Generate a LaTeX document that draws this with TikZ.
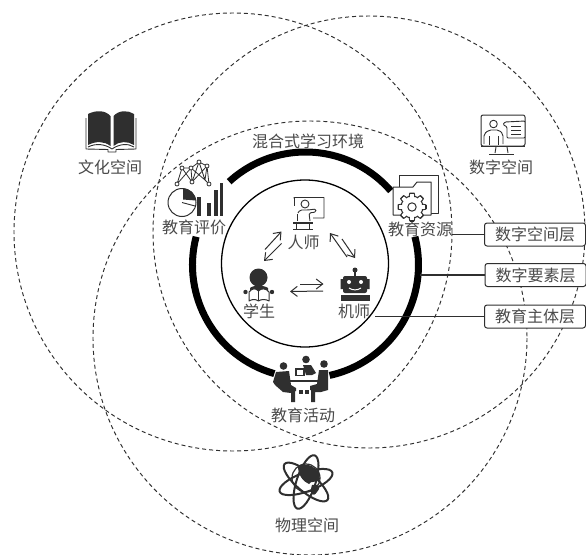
\documentclass[tikz,border=0pt]{standalone}
\usepackage{fontspec}
\setmainfont{Noto Sans CJK SC}
\usetikzlibrary{arrows.meta,calc}
\definecolor{ink}{HTML}{2F2F2F}
\definecolor{txt}{HTML}{4A4A4A}
\tikzset{
  space/.style={draw=ink,line width=0.95pt,dash pattern=on 4pt off 3pt},
  ringarc/.style={draw=black,line width=7pt},
  inner/.style={draw=black,line width=1.3pt},
  lbl/.style={text=txt,inner sep=0pt,font=\fontsize{16}{18}\selectfont},
  layerbox/.style={draw=ink,line width=1pt,rounded corners=2.5pt,fill=white,minimum width=101pt,minimum height=23pt,inner sep=0pt,text=txt,font=\fontsize{16}{18}\selectfont},
  leader/.style={draw=ink,line width=1.1pt},
  ico/.style={draw=ink,line width=0.9pt,line join=round},
  icof/.style={fill=ink,draw=none},
  rel/.style={draw=ink,line width=1pt,-{Straight Barb[length=6.5pt,width=10pt]}},
}
\begin{document}
\begin{tikzpicture}[x=1pt,y=-1pt]
\useasboundingbox[fill=white] (0,0) rectangle (586,554);
% outer spaces
\draw[space] (233,232) circle[radius=219];
\draw[space] (369,232) circle[radius=216];
\draw[space] (310,338) circle[radius=217];
% ring and core
\coordinate (R) at (305.5,265);
\draw[ringarc] ([shift={(-132.5:113)}]R) arc[start angle=-132.5,end angle=-41,radius=113];
\draw[ringarc] ([shift={(-14.5:113)}]R) arc[start angle=-14.5,end angle=77.7,radius=113];
\draw[ringarc] ([shift={(194.5:113)}]R) arc[start angle=194.5,end angle=106,radius=113];
\draw[inner] (305,263.5) circle[radius=83.5];
% labels
\node[lbl] (title) at (308,141) {混合式学习环境};
\node[lbl] (wenhua) at (110,167) {文化空间};
\node[lbl] (shuzi) at (501,167) {数字空间};
\node[lbl] (pingjia) at (194,227) {教育评价};
\node[lbl] (ziyuan) at (420,229) {教育资源};
\node[lbl] (renshi) at (303.5,242) {人师};
\node[lbl] (xuesheng) at (259,311) {学生};
\node[lbl] (jishi) at (354,311) {机师};
\node[lbl] (huodong) at (303,415) {教育活动};
\node[lbl] (wuli) at (307,525) {物理空间};
% layer boxes
\node[layerbox] (b1) at (535,234.5) {数字空间层};
\node[layerbox] (b2) at (535.5,275) {数字要素层};
\node[layerbox] (b3) at (535,316.5) {教育主体层};
\coordinate (e2) at (420,275);
\coordinate (e3) at (375,316.5);
\draw[leader] (ziyuan.east |- b1.west) -- (b1.west);
\draw[leader] (e2) -- (b2.west);
\draw[leader] (e3) -- (b3.west);
% relation arrows
\coordinate (a1) at (265,249.5); \coordinate (a2) at (281.5,231.5);
\coordinate (a3) at (281.5,243.5); \coordinate (a4) at (264,261);
\coordinate (a5) at (342,239); \coordinate (a6) at (355,258);
\coordinate (a7) at (347,257); \coordinate (a8) at (330,233);
\coordinate (a9) at (300,284); \coordinate (a10) at (323.5,284);
\coordinate (a11) at (323,291); \coordinate (a12) at (290,291.5);
\draw[rel] (a1) -- (a2);
\draw[rel] (a3) -- (a4);
\draw[rel] (a5) -- (a6);
\draw[rel] (a7) -- (a8);
\draw[rel] (a9) -- (a10);
\draw[rel] (a11) -- (a12);
% book icon
\fill[ink] (88,114) .. controls (96,110) and (105,110) .. (110.5,116) -- (110.5,146) .. controls (104,141) and (96,141) .. (88,145) -- cycle;
\fill[ink] (113.5,116) .. controls (119,110) and (128,110) .. (134,114) -- (134,145) .. controls (128,141) and (119,141) .. (113.5,146) -- cycle;
\draw[ico] (86,118) -- (86,149) -- (108,149.5) -- (108,152) -- (116,152) -- (116,149.5) -- (136,149) -- (136,118);
\draw[ico] (88,147) .. controls (96,143) and (105,144) .. (112,149) .. controls (119,144) and (128,143) .. (134,147);
% evaluation icon
\coordinate (n1) at (177,184); \coordinate (n2) at (182,168); \coordinate (n3) at (192,182);
\coordinate (n4) at (191,168); \coordinate (n5) at (199,162); \coordinate (n6) at (205,180);
\coordinate (n7) at (207,166); \coordinate (n8) at (209,184);
\draw[ico,line width=0.8pt] (n1)--(n2)--(n3)--(n4)--(n1) (n2)--(n4)--(n5)--(n3) (n5)--(n6)--(n7)--(n5) (n4)--(n6) (n3)--(n7) (n7)--(n8) (n6)--(n8);
\foreach \n in {n1,n2,n3,n4,n5,n7,n8}{\draw[ico,line width=0.8pt,fill=white] (\n) circle[radius=2];}
\draw[ico,line width=1pt] (182,202.5) circle[radius=14];
\fill[ink] (183,199.5) -- (183,188.5) .. controls (190,188.5) and (195,193) .. (196,200.5) -- cycle;
\draw[ico] (182,202.5) -- (195,206);
\fill[ink] (197,197) rectangle (200.5,216);
\fill[ink] (207,203) rectangle (210.5,216);
\fill[ink] (214,190) rectangle (217.5,216);
\fill[ink] (219.5,183) rectangle (223,216);
% resource icon
\draw[ico,line width=1pt] (399,190) -- (399,175) -- (438,175) -- (438,213) -- (431,213);
\draw[ico,line width=1pt,fill=white] (393,215) -- (393,187) -- (413,187) -- (417,182) -- (431,182) -- (431,215) -- cycle;
\foreach \a in {0,45,...,315}{\fill[ink,rotate around={\a:(412,207)}] (410,192.5) rectangle (414,197);}
\draw[ico,line width=1pt,fill=white] (412,207) circle[radius=11];
\foreach \a in {0,45,...,315}{\fill[white,rotate around={\a:(412,207)}] (410.2,193.8) rectangle (413.8,198);}
\foreach \a in {0,45,...,315}{\draw[ico,line width=0.9pt,rotate around={\a:(412,207)}] (409,197) -- (409.8,193) -- (414.2,193) -- (415,197);}
\draw[ico,line width=1pt] (412,207) circle[radius=4.2];
% digital icon
\draw[ico,line width=1pt,rounded corners=2pt] (481,146) -- (481,115) -- (525,115) -- (525,146) -- cycle;
\draw[ico] (481,146) -- (525,146);
\draw[ico] (496,147) -- (495,153) (507,147) -- (508,153);
\draw[ico] (489,154) -- (514,154);
\draw[ico] (493.5,124) circle[radius=3.8];
\draw[ico,rounded corners=2pt] (484,144) -- (484,134) -- (489,130) -- (499,130) -- (503,134) -- (503,144);
\draw[ico] (489,136) -- (489,145) (498,136) -- (498,145);
\draw[ico,fill=white,rounded corners=1pt] (505,122) -- (525,121) -- (525,138) -- (507,138) -- (507,127) -- (503,124.5) -- cycle;
\draw[ico] (511,126) -- (521,126) (511,130) -- (521,130) (511,134) -- (521,134);
% teacher icon
\draw[ico] (294.5,199) -- (294,197.5) -- (324,197.5) -- (324,218) -- (313,218);
\draw[ico] (294,197.5) -- (294,206);
\draw[ico] (305,204) circle[radius=4];
\draw[ico,rounded corners=1.5pt] (298,213) -- (300,210) -- (308,210) -- (316,209) -- (316,212) -- (309,213) -- (310,221);
\draw[ico] (297,214) -- (297,221);
\draw[ico] (293,222) -- (313,222);
\fill[ink] (293,222) rectangle (313,223.5);
\draw[ico] (296,224) -- (296,229) (309,224) -- (309,229) (293,229) -- (313,229);
% student icon
\fill[ink] (258.5,277.5) circle[radius=9];
\fill[ink] (250,288) .. controls (253,285) and (264,285) .. (268,288) -- (268,292) -- (250,292) -- cycle;
\draw[ico,fill=white,line width=1pt] (249,292) .. controls (252,288) and (256,288) .. (258.5,291) .. controls (261,288) and (266,288) .. (269,292) -- (269,301) .. controls (266,299) and (261,299) .. (258.5,301) .. controls (256,299) and (252,299) .. (249,301) -- cycle;
\draw[ico,line width=1pt] (258.5,291) -- (258.5,301);
\fill[ink] (245.5,292) circle[radius=2.2] (272,292) circle[radius=2.2];
% robot icon
\fill[ink] (355,270) circle[radius=2.5];
\fill[ink] (354,270) rectangle (356,276);
\fill[ink,rounded corners=2pt] (343,276) rectangle (367,293);
\fill[ink] (340.5,279) rectangle (343,289) (367,279) rectangle (369.5,289);
\fill[white] (349,282) circle[radius=2] (361,282) circle[radius=2];
\draw[white,line width=1pt] (349,288) .. controls (352,290.5) and (358,290.5) .. (361,288);
\fill[ink] (341,295) rectangle (370,301);
% activity icon
\fill[ink] (283.5,366) circle[radius=3.8];
\fill[ink] (306,359.5) circle[radius=3.8];
\fill[ink] (324,364) circle[radius=3.8];
\fill[ink] (276,372) -- (289,371) -- (291,385) -- (296,388) -- (296,391) -- (295,391) -- (295,402) -- (291,402) -- (291,393) -- (283,392) -- (275,385) -- (273,382) -- cycle;
\fill[ink] (303,365) -- (311,365) -- (316,373) -- (312,375) -- (306,375) -- cycle;
\fill[ink] (319,370) -- (328,370) -- (328,390) -- (321,392) -- (315,392) -- (315,402) -- (311,402) -- (311,390) -- (310,390) -- (310,386) -- (317,384) -- cycle;
\fill[ink] (295,368) rectangle (305,376);
\fill[white] (297,370) rectangle (303,374.5);
\fill[ink] (298.5,389.5) rectangle (303,393.5);
\fill[ink] (304.5,389.5) rectangle (309,393.5);
\draw[ink,line width=1.2pt] (287,381) -- (318,381);
% globe icon
\draw[ink,line width=1.2pt,fill=white] (306,478) circle[radius=14];
\fill[ink] (298,466) .. controls (306,462) and (319,466) .. (320,479) .. controls (315,484) and (311,480) .. (309,484) .. controls (304,482) and (298,476) .. (298,466) -- cycle;
\fill[ink] (312,485) .. controls (318,484) and (322,486) .. (317,492) .. controls (313,498) and (309,494) .. (312,485) -- cycle;
\begin{scope}[shift={(306,482)}]
\draw[ink,line width=2pt,rotate=20] (0,0) circle[x radius=28,y radius=9.5];
\draw[ink,line width=2pt,rotate=72] (0,0) circle[x radius=28,y radius=9.5];
\draw[ink,line width=2pt,rotate=140] (0,0) circle[x radius=28,y radius=9.5];
\end{scope}
\end{tikzpicture}
\end{document}
